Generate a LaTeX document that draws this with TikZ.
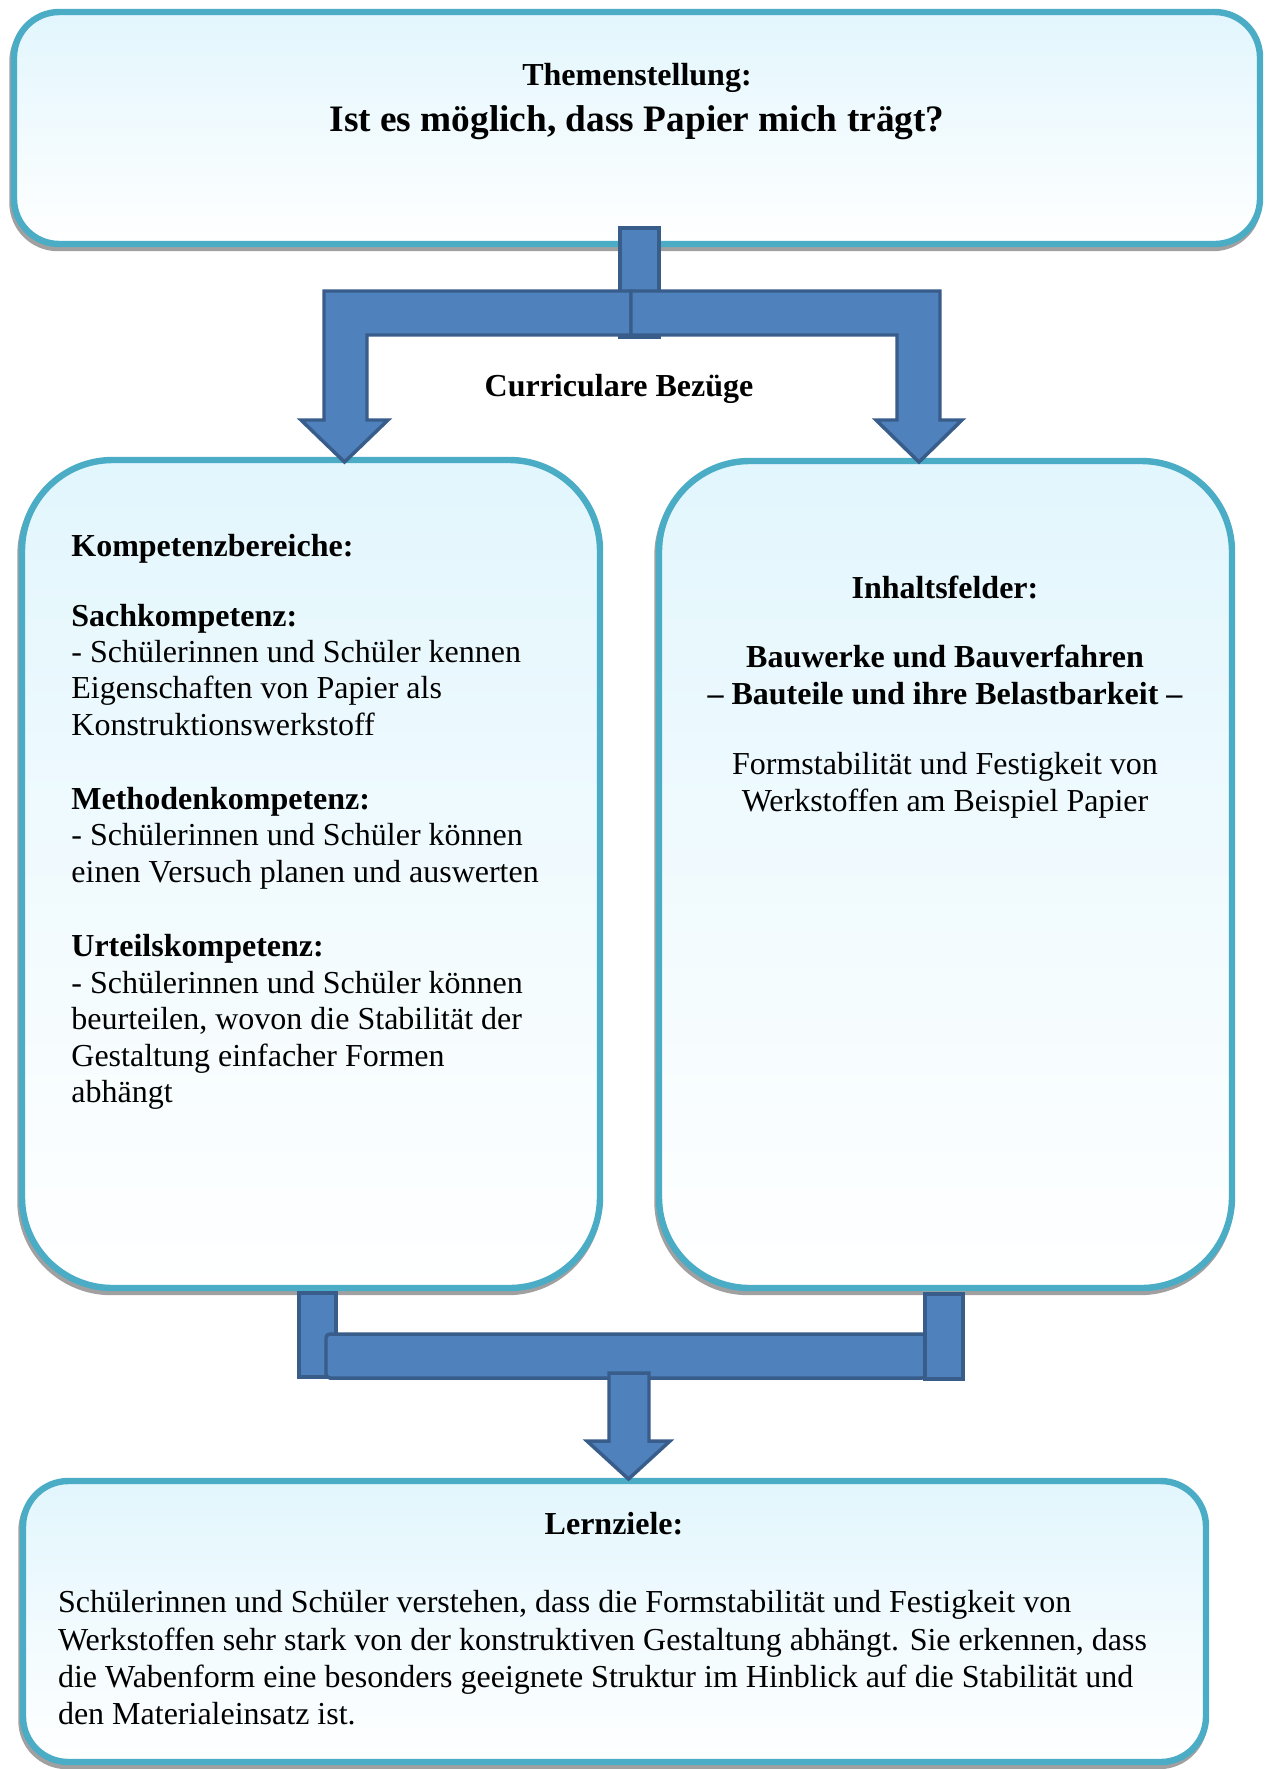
\documentclass[tikz,border=0pt]{standalone}
\usepackage{fontspec}
\setmainfont{Liberation Serif}
\begin{document}
\begin{tikzpicture}[x=0.375pt,y=-0.375pt,
  box/.style={draw=boxBorder,line width=2.4pt,top color=boxTop,bottom color=white},
  boxshadow/.style={draw=shadowColor,fill=shadowColor,line width=2.4pt},
  blockarrow/.style={draw=arrowBorder,fill=arrowFill,line width=1.3pt,line join=miter},
  txt/.style={text=black,inner sep=0pt,outer sep=0pt,font=\fontsize{12}{13.8}\selectfont},
  head/.style={txt,font=\fontsize{12}{13.8}\selectfont\bfseries}]
\definecolor{boxBorder}{RGB}{75,172,198}
\definecolor{boxTop}{RGB}{226,246,253}
\definecolor{shadowColor}{RGB}{160,160,160}
\definecolor{arrowFill}{RGB}{79,129,189}
\definecolor{arrowBorder}{RGB}{56,93,138}
\path[use as bounding box,fill=white] (0,0) rectangle (1266,1769);

% boxes
\path[boxshadow,rounded corners=17pt] (12.5,16) rectangle (1258.5,248);
\path[box,rounded corners=17pt] (14,12) rectangle (1260,244);

\path[boxshadow,rounded corners=34pt] (20.5,464) rectangle (598.5,1292);
\path[box,rounded corners=34pt] (22,460) rectangle (600,1288);

\path[boxshadow,rounded corners=34pt] (657.5,465) rectangle (1230.5,1292);
\path[box,rounded corners=34pt] (659,461) rectangle (1232,1288);

\path[boxshadow,rounded corners=17pt] (21.5,1485) rectangle (1204.5,1766);
\path[box,rounded corners=17pt] (23,1481) rectangle (1206,1762);

% Themenstellung
\node[head,anchor=base] (thema) at (637,85) {Themenstellung:};
\node[head,anchor=base,font=\fontsize{14}{16}\selectfont\bfseries] (frage) at (637,131.7) {Ist es möglich, dass Papier mich trägt?};

% Kompetenzbereiche
\node[head,anchor=base west] (kb) at (71.4,556.5) {Kompetenzbereiche:};

\node[head,anchor=base west] (sach) at (71.4,626) {Sachkompetenz:};
\node[txt,anchor=base west] (sach1) at (71.4,662.4) {- Schülerinnen und Schüler kennen};
\node[txt,anchor=base west] (sach2) at (71.4,698.9) {Eigenschaften von Papier als};
\node[txt,anchor=base west] (sach3) at (71.4,735.8) {Konstruktionswerkstoff};

\node[head,anchor=base west] (meth) at (71.4,809.2) {Methodenkompetenz:};
\node[txt,anchor=base west] (meth1) at (71.4,845.7) {- Schülerinnen und Schüler können};
\node[txt,anchor=base west] (meth2) at (71.4,882.6) {einen Versuch planen und auswerten};

\node[head,anchor=base west] (urt) at (71.4,956) {Urteilskompetenz:};
\node[txt,anchor=base west] (urt1) at (71.4,993) {- Schülerinnen und Schüler können};
\node[txt,anchor=base west] (urt2) at (71.4,1029.4) {beurteilen, wovon die Stabilität der};
\node[txt,anchor=base west] (urt3) at (71.4,1066.3) {Gestaltung einfacher Formen};
\node[txt,anchor=base west] (urt4) at (71.4,1102.8) {abhängt};

% Inhaltsfelder
\node[head,anchor=base] (inh) at (945,598) {Inhaltsfelder:};
\node[head,anchor=base] (bau1) at (945,667.7) {Bauwerke und Bauverfahren};
\node[head,anchor=base] (bau2) at (945,704.3) {– Bauteile und ihre Belastbarkeit –};
\node[txt,anchor=base] (form1) at (945,774.3) {Formstabilität und Festigkeit von};
\node[txt,anchor=base] (form2) at (945,811.7) {Werkstoffen am Beispiel Papier};

% Lernziele
\node[head,anchor=base] (lz) at (614,1534) {Lernziele:};
\node[txt,anchor=base west] (lz1) at (58,1612.7) {Schülerinnen und Schüler verstehen, dass die Formstabilität und Festigkeit von};
\node[txt,anchor=base west] (lz2) at (58,1650) {Werkstoffen sehr stark von der konstruktiven Gestaltung abhängt. Sie erkennen, dass};
\node[txt,anchor=base west] (lz3) at (58,1687.3) {die Wabenform eine besonders geeignete Struktur im Hinblick auf die Stabilität und};
\node[txt,anchor=base west] (lz4) at (58,1724) {den Materialeinsatz ist.};

% arrows to the curricula
\path[blockarrow] (620,228) rectangle (659,337);
\path[blockarrow] (631,291) -- (324,291) -- (324,420) -- (301,420) -- (344.5,462) --
	(388,420) -- (367,420) -- (367,335) -- (631,335) -- cycle;
\path[blockarrow] (631,291) -- (940,291) -- (940,420) -- (962,420) -- (919,462) --
	(876,420) -- (897,420) -- (897,335) -- (631,335) -- cycle;
\node[head,anchor=base] (curr) at (619,396.7) {Curriculare Bezüge};

% arrows to the aims
\path[blockarrow] (299,1293) rectangle (336,1377);
\path[blockarrow,rounded corners=1.5pt] (326,1334) rectangle (926,1378);
\path[blockarrow] (925,1294) rectangle (963,1379);
\path[blockarrow] (609,1373) -- (649,1373) -- (649,1441) -- (670,1441) -- (628.5,1479) --
	(587,1441) -- (609,1441) -- cycle;
\end{tikzpicture}
\end{document}
